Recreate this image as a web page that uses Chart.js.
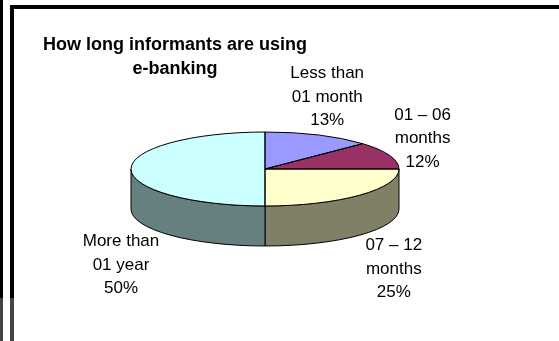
<!DOCTYPE html>
<html>
<head>
<meta charset="utf-8">
<script src="https://cdn.jsdelivr.net/npm/chart.js@4.4.0/dist/chart.umd.min.js"></script>
<style>
html, body {margin:0; padding:0; background:#fff;}
#wrap {position:relative; width:559px; height:341px; overflow:hidden;}
#chart {position:absolute; left:0; top:0;}
.ln {position:absolute;}
</style>
</head>
<body>
<div id="wrap">
  <canvas id="chart" width="559" height="341"></canvas>
  <div class="ln" style="left:0;top:0;width:3px;height:298px;background:#000"></div>
  <div class="ln" style="left:0;top:298px;width:3px;height:43px;background:#444"></div>
  <div class="ln" style="left:10px;top:5px;width:549px;height:4px;background:#000"></div>
  <div class="ln" style="left:10px;top:5px;width:4px;height:293px;background:#000"></div>
  <div class="ln" style="left:10px;top:298px;width:4px;height:43px;background:#444"></div>
</div>
<script>
var titleLines = ['How long informants are using', 'e-banking'];
var categories = [['Less than', '01 month'], ['01 \u2013 06', 'months'], ['07 \u2013 12', 'months'], ['More than', '01 year']];
var shares = [13, 12, 25, 50];

var topColors = ['#9999FF', '#993366', '#FFFFCC', '#CCFFFF'];
var sideColors = ['#4d4d80', '#4d1a33', '#808066', '#668080'];
var labelOffsets = [[9, -38], [33, -17], [34, 74], [-10, 96]];
var tilt = 0.276, depth = 40;

var pie3d = {
    id: 'pie3d',
    beforeDatasetsDraw: function (chart) {
        var ctx = chart.ctx, arcs = chart.getDatasetMeta(0).data;
        var cx = arcs[0].x, cy = arcs[0].y, r = arcs[0].outerRadius, ry = r * tilt;
        ctx.save();
        ctx.lineWidth = 1;
        ctx.strokeStyle = '#000';
        arcs.forEach(function (a, i) {
            var s = Math.max(a.startAngle, 0), e = Math.min(a.endAngle, Math.PI);
            if (s >= e) return;
            ctx.beginPath();
            ctx.ellipse(cx, cy, r, ry, 0, s, e);
            ctx.ellipse(cx, cy + depth, r, ry, 0, e, s, true);
            ctx.closePath();
            ctx.fillStyle = sideColors[i];
            ctx.fill();
            ctx.stroke();
        });
        ctx.restore();
        // squash the top face into an ellipse
        ctx.save();
        ctx.translate(cx, cy);
        ctx.scale(1, tilt);
        ctx.translate(-cx, -cy);
    },
    afterDatasetsDraw: function (chart) {
        var ctx = chart.ctx, arcs = chart.getDatasetMeta(0).data;
        ctx.restore();
        var cx = arcs[0].x, cy = arcs[0].y, r = arcs[0].outerRadius, ry = r * tilt;
        ctx.save();
        ctx.lineWidth = 1;
        ctx.strokeStyle = '#000';
        arcs.forEach(function (a) {
            ctx.beginPath();
            ctx.moveTo(cx, cy);
            ctx.ellipse(cx, cy, r, ry, 0, a.startAngle, a.endAngle);
            ctx.closePath();
            ctx.stroke();
        });
        ctx.fillStyle = '#000';
        ctx.textAlign = 'center';
        ctx.textBaseline = 'middle';
        ctx.font = '17px "Liberation Sans", Arial, sans-serif';
        arcs.forEach(function (a, i) {
            var mid = (a.startAngle + a.endAngle) / 2;
            var x = cx + r * Math.cos(mid) + labelOffsets[i][0];
            var y = cy + ry * Math.sin(mid) + labelOffsets[i][1];
            var lines = categories[i].concat([shares[i] + '%']);
            lines.forEach(function (t, k) {
                ctx.fillText(t, x, y + (k - 1) * 23.5);
            });
        });
        ctx.font = 'bold 18px "Liberation Sans", Arial, sans-serif';
        titleLines.forEach(function (t, k) {
            ctx.fillText(t, 175, 45 + k * 24.5);
        });
        ctx.restore();
    }
};

new Chart(document.getElementById('chart'), {
    type: 'pie',
    data: {
        labels: categories.map(function (c) { return c.join(' '); }),
        datasets: [{
            data: shares,
            backgroundColor: topColors,
            borderWidth: 0,
            hoverOffset: 0,
            offset: 0
        }]
    },
    options: {
        responsive: false,
        animation: false,
        radius: 134,
        layout: {padding: {left: 120, right: 149, top: 20, bottom: 23}},
        plugins: {legend: {display: false}, tooltip: {enabled: false}},
        events: []
    },
    plugins: [pie3d]
});
</script>
</body>
</html>
